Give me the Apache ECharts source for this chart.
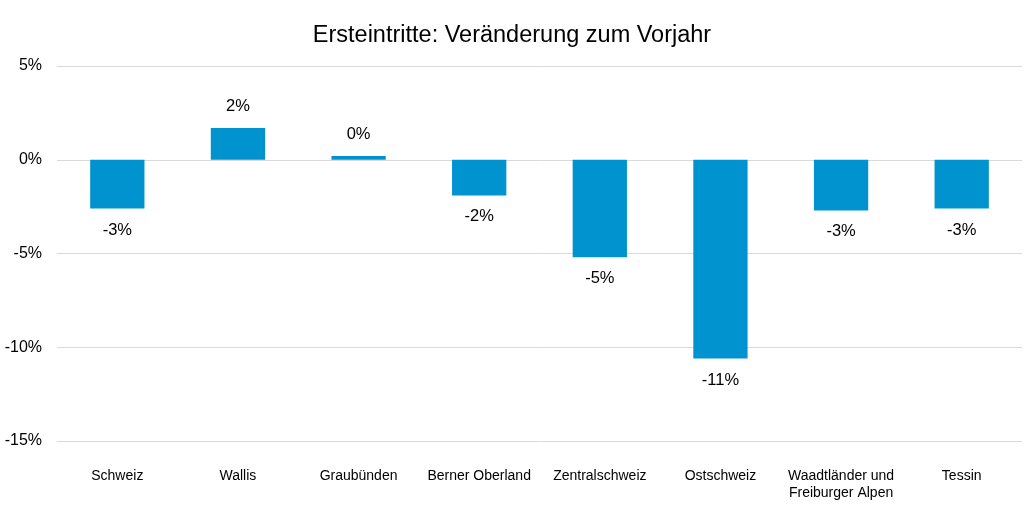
<!DOCTYPE html>
<html lang="de">
<head>
    <meta charset="UTF-8">
    <title>Ersteintritte</title>
    <style>
        html, body { margin: 0; padding: 0; background: #ffffff; }
        #chart { width: 1024px; height: 525px; }
    </style>
</head>
<body>
<div id="chart"></div>
<script src="https://cdn.jsdelivr.net/npm/echarts@6/dist/echarts.min.js"></script>
<script type="text/javascript">
    // Werte in Prozent, aus dem Bild geschätzt
    const regionen = ["Schweiz", "Wallis", "Graubünden", "Berner Oberland", "Zentralschweiz",
        "Ostschweiz", "Waadtländer und\nFreiburger Alpen", "Tessin"];
    const veraenderung = [-2.6, 1.7, 0.2, -1.9, -5.2, -10.6, -2.7, -2.6];
    const yTicks = {min: -15, max: 5, interval: 5};

    const FONT = '"Liberation Sans", Arial, sans-serif';

    let myChart = echarts.init(document.getElementById('chart'));
    myChart.setOption({
        animation: false,
        title: {
            text: 'Ersteintritte: Veränderung zum Vorjahr',
            left: 'center',
            top: 19,
            textStyle: {fontFamily: FONT, fontSize: 23.5, fontWeight: 'normal', color: '#000000'}
        },
        grid: {left: 57, right: 2, top: 66, bottom: 84, containLabel: false},
        xAxis: {
            type: 'category',
            data: regionen,
            axisLine: {show: false},
            axisTick: {show: false},
            axisLabel: {
                interval: 0,
                margin: 27,
                fontFamily: FONT,
                fontSize: 14,
                color: '#000000',
                lineHeight: 17
            }
        },
        yAxis: {
            type: 'value',
            min: yTicks.min,
            max: yTicks.max,
            interval: yTicks.interval,
            axisLine: {show: false},
            axisTick: {show: false},
            splitLine: {lineStyle: {color: '#d9d9d9', width: 1}},
            axisLabel: {
                margin: 15,
                fontFamily: FONT,
                fontSize: 16,
                color: '#000000',
                formatter: v => v + '%'
            }
        },
        series: [{
            type: 'bar',
            data: veraenderung.map(v => ({
                value: v,
                label: {position: v >= 0 ? 'top' : 'bottom'}
            })),
            barWidth: '45%',
            itemStyle: {color: '#0093d0'},
            label: {
                show: true,
                distance: 13,
                fontFamily: FONT,
                fontSize: 16.5,
                color: '#000000',
                formatter: p => Math.round(p.value) + '%'
            }
        }]
    });
</script>
</body>
</html>
